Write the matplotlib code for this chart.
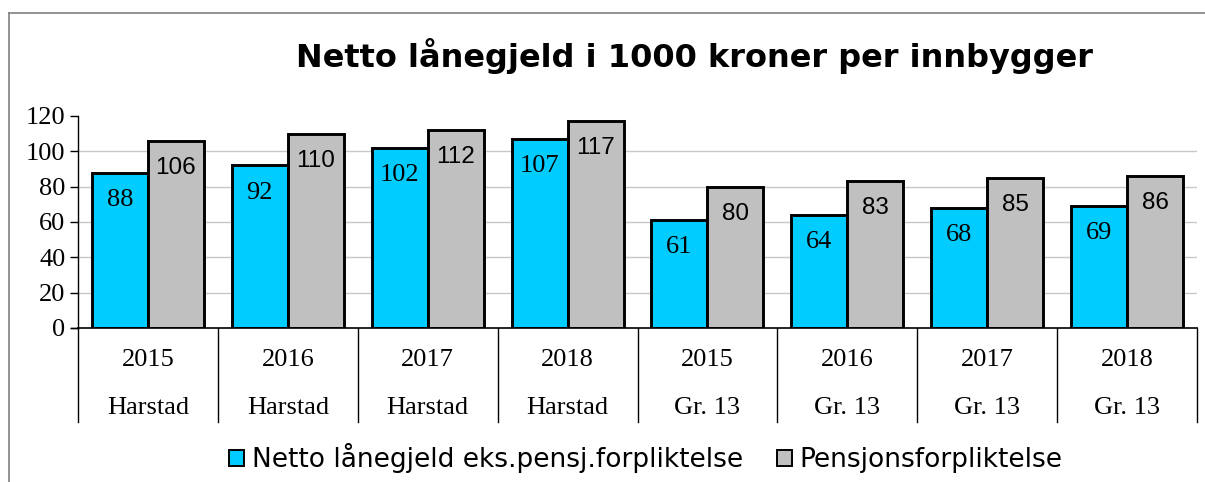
import matplotlib
matplotlib.use('Agg')
import matplotlib.pyplot as plt
import matplotlib.transforms as mtransforms
from matplotlib.patches import Patch
from matplotlib.lines import Line2D

# Données du graphique
annees = ['2015', '2016', '2017', '2018', '2015', '2016', '2017', '2018']
groupes = ['Harstad', 'Harstad', 'Harstad', 'Harstad', 'Gr. 13', 'Gr. 13', 'Gr. 13', 'Gr. 13']
netto_lanegjeld = [88, 92, 102, 107, 61, 64, 68, 69]
pensjon = [106, 110, 112, 117, 80, 83, 85, 86]

serie_1 = 'Netto lånegjeld eks.pensj.forpliktelse'
serie_2 = 'Pensjonsforpliktelse'
titre = 'Netto lånegjeld i 1000 kroner per innbygger'

BLEU = '#00CCFF'
GRIS = '#C0C0C0'


def plot_lanegjeld():
    fig = plt.figure(figsize=(12.05, 4.82), dpi=100)
    W, H = 1205, 482
    ax = fig.add_axes([78 / W, 1 - 328 / H, (1197 - 78) / W, 212 / H])

    # Cadre gris autour du graphique
    fig.add_artist(Line2D([9 / W, 9 / W], [0, 1 - 13 / H], color='#808080', lw=1.2))
    fig.add_artist(Line2D([9 / W, 1], [1 - 13 / H, 1 - 13 / H], color='#808080', lw=1.2))

    n = len(annees)
    index = list(range(n))
    largeur = 0.4

    b1 = ax.bar([i - largeur / 2 for i in index], netto_lanegjeld, width=largeur,
                color=BLEU, edgecolor='black', linewidth=2.1, zorder=3)
    b2 = ax.bar([i + largeur / 2 for i in index], pensjon, width=largeur,
                color=GRIS, edgecolor='black', linewidth=2.1, zorder=3)

    # Etiquettes dans les barres
    for rect, v in zip(b1, netto_lanegjeld):
        ax.annotate(str(v), (rect.get_x() + rect.get_width() / 2, v),
                    xytext=(0, -19.5), textcoords='offset points', ha='center', va='center',
                    fontsize=19, family='Liberation Serif', zorder=4)
    for rect, v in zip(b2, pensjon):
        ax.annotate(str(v), (rect.get_x() + rect.get_width() / 2, v),
                    xytext=(0, -19.5), textcoords='offset points', ha='center', va='center',
                    fontsize=17.5, family='Liberation Sans', zorder=4)

    # Axes
    ax.set_xlim(-0.5, n - 0.5)
    ax.set_ylim(0, 120)
    ax.set_yticks(range(0, 121, 20))
    ax.set_yticklabels([str(v) for v in range(0, 121, 20)], family='Liberation Serif', fontsize=19)
    ax.tick_params(axis='y', length=6, width=1, pad=3)
    ax.set_xticks([])
    for s in ['top', 'right', 'bottom']:
        ax.spines[s].set_visible(False)
    ax.spines['left'].set_linewidth(1)
    ax.axhline(0, color='black', lw=1.2, zorder=4, clip_on=False)
    ax.plot([-0.5 - 0.05, -0.5], [0, 0], color='black', lw=1, clip_on=False)

    # Grille
    for y in range(20, 101, 20):
        ax.axhline(y, color='#C8C8C8', lw=1, zorder=0)

    # Axe des catégories à deux niveaux
    trans = mtransforms.blended_transform_factory(ax.transData, ax.transAxes)
    for b in range(n + 1):
        ax.plot([b - 0.5, b - 0.5], [0, -0.443], color='black', lw=1,
                transform=trans, clip_on=False)
    for i in index:
        ax.text(i, -0.151, annees[i], transform=trans, ha='center', va='center',
                family='Liberation Serif', fontsize=19)
        ax.text(i, -0.377, groupes[i], transform=trans, ha='center', va='center',
                family='Liberation Serif', fontsize=19)

    # Titre
    fig.text(695 / W, 1 - 56 / H, titre, ha='center', va='center',
             fontsize=23, fontweight='bold', family='DejaVu Sans')

    # Légende
    handles = [Patch(facecolor=BLEU, edgecolor='black', linewidth=1.4),
               Patch(facecolor=GRIS, edgecolor='black', linewidth=1.4)]
    fig.legend(handles, [serie_1, serie_2], loc='center', ncol=2, frameon=False,
               bbox_to_anchor=(646 / W, 1 - 458 / H), fontsize=19,
               handlelength=0.55, handleheight=0.55, handletextpad=0.3, columnspacing=1.3)

    fig.savefig('out.png', dpi=100)


if __name__ == "__main__":
    plot_lanegjeld()
